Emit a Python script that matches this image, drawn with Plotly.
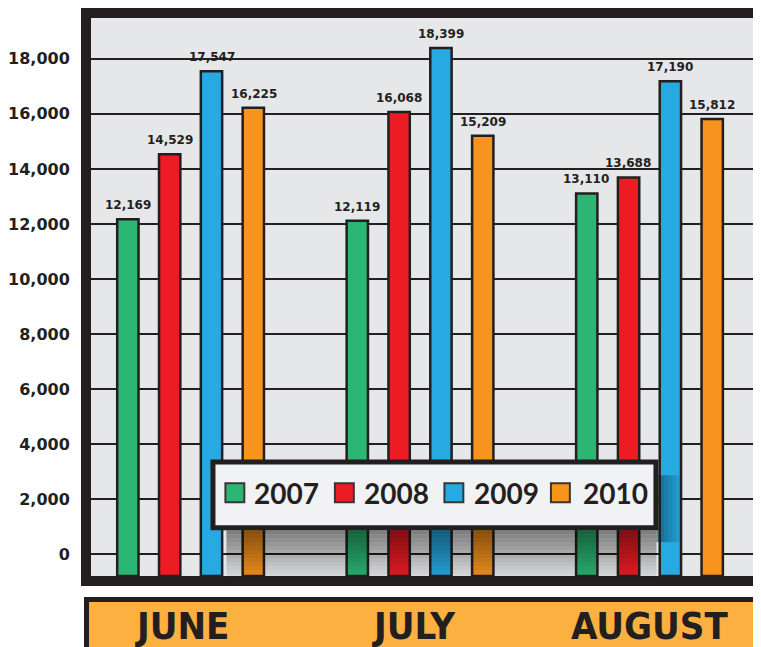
import plotly.graph_objects as go

# data
months = ["JUNE", "JULY", "AUGUST"]
years = ["2007", "2008", "2009", "2010"]
sales_2007 = [12169, 12119, 13110]
sales_2008 = [14529, 16068, 13688]
sales_2009 = [17547, 18399, 17190]
sales_2010 = [16225, 15209, 15812]
y_ticks = list(range(0, 18001, 2000))

colors = ["#2bb673", "#ed1c24", "#27aae1", "#f7941d"]
INK = "#231f20"
Y_LOW, Y_HIGH = -797, 19485

# the page body adds an 8px margin, so the figure is 8px smaller
OFF = 8
W, H = 761 - OFF, 647 - OFF
L, R, T, B = 88 - OFF, 0, 16 - OFF, 71
SLOT = 42  # px between neighbouring bars of a group


def px_x(p):
    return (p - OFF - L) / (W - L - R)


def px_y(p):
    return (H - B - (p - OFF)) / (H - T - B)


fig = go.Figure()
annotations = []
series = [sales_2007, sales_2008, sales_2009, sales_2010]
for k, (year, vals, col) in enumerate(zip(years, series, colors)):
    fig.add_bar(
        x=months,
        y=[v - Y_LOW for v in vals],
        base=Y_LOW,
        name=year,
        marker=dict(color=col, line=dict(color=INK, width=2.5)),
        showlegend=False,
    )
    # value labels above each bar
    for m, v in zip(months, vals):
        annotations.append(dict(xref="x", yref="y", x=m, y=v, xshift=(k - 1.5) * SLOT,
                                yshift=5, xanchor="center", yanchor="bottom",
                                showarrow=False, text=f"{v:,}",
                                font=dict(family="DejaVu Sans", size=12, color=INK,
                                          weight="bold")))

shapes = []
# shadow under the legend box
for i in range(12):
    y0 = 530 + i * 4
    shapes.append(dict(type="rect", xref="paper", yref="paper", layer="above",
                       x0=px_x(224), x1=px_x(656), y0=px_y(y0), y1=px_y(y0 + 4),
                       line=dict(width=0), fillcolor=f"rgba(0,0,0,{0.45 - i * 0.035:.3f})"))
for i in range(6):
    x0 = 656 + i * 4
    shapes.append(dict(type="rect", xref="paper", yref="paper", layer="above",
                       x0=px_x(x0), x1=px_x(x0 + 4), y0=px_y(475), y1=px_y(542),
                       line=dict(width=0), fillcolor=f"rgba(0,40,60,{0.5 - i * 0.08:.2f})"))
# legend box
shapes.append(dict(type="rect", xref="paper", yref="paper", layer="above",
                   x0=px_x(210.5), x1=px_x(655.5), y0=px_y(527.5), y1=px_y(461.5),
                   line=dict(color=INK, width=5), fillcolor="#f1f2f3"))
legend_sq_x = [222, 332, 442, 549]
legend_txt_x = [250, 360, 471, 580]
for sx, tx, col, year in zip(legend_sq_x, legend_txt_x, colors, years):
    shapes.append(dict(type="rect", xref="paper", yref="paper", layer="above",
                       x0=px_x(sx + 1), x1=px_x(sx + 20), y0=px_y(502), y1=px_y(483),
                       line=dict(color="#3a3536", width=2), fillcolor=col))
    annotations.append(dict(xref="paper", yref="paper", x=px_x(tx), y=px_y(493),
                            xanchor="left", yanchor="middle", showarrow=False, text=year,
                            font=dict(family="Lato", size=28, color=INK, weight="bold")))

# orange month band
shapes.append(dict(type="rect", xref="paper", yref="paper", layer="above",
                   x0=px_x(83.5), x1=px_x(790), y0=px_y(599.5), y1=px_y(680),
                   line=dict(color=INK, width=5), fillcolor="#fbb040"))
month_shift = [-9, -6, 0]
for m, dx in zip(months, month_shift):
    annotations.append(dict(xref="x", yref="paper", x=m, xshift=dx, y=px_y(602),
                            xanchor="center", yanchor="top", showarrow=False, text=m,
                            font=dict(family="DejaVu Sans Condensed, Liberation Sans Narrow, DejaVu Sans",
                                      size=38, color=INK, weight="bold")))

fig.update_layout(
    width=W, height=H,
    margin=dict(l=L, r=R, t=T, b=B),
    paper_bgcolor="white",
    plot_bgcolor="#e6e7e8",
    barmode="group",
    bargap=0.271,
    bargroupgap=0.49,
    shapes=shapes,
    annotations=annotations,
    xaxis=dict(range=[-0.434, 2.486], showticklabels=False, showgrid=False, ticks="",
               showline=True, mirror=True, linewidth=10, linecolor=INK, zeroline=False),
    yaxis=dict(range=[Y_LOW, Y_HIGH], tickvals=y_ticks,
               ticktext=[f"{t:,}" for t in y_ticks],
               showgrid=True, gridcolor=INK, gridwidth=1.5, zeroline=False, ticks="",
               showline=True, linewidth=10, linecolor=INK, ticklabelstandoff=8,
               tickfont=dict(family="DejaVu Sans", size=16, color=INK, weight="bold")),
)

fig.write_html("out.html")
